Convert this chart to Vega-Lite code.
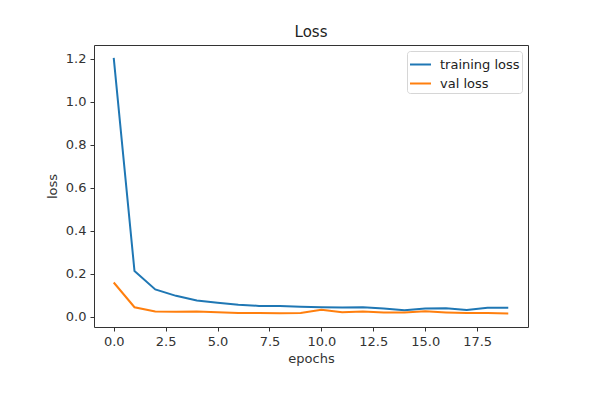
{
  "$schema": "https://vega.github.io/schema/vega-lite/v6.json",
  "width": 434,
  "height": 282,
  "autosize": {"type": "none"},
  "padding": {"left": 94, "top": 45, "right": 70, "bottom": 67},
  "background": "white",
  "title": {"text": "Loss", "font": "DejaVu Sans", "fontSize": 15, "fontWeight": "normal", "color": "#222", "offset": 5},
  "data": {"values": [
    {"epoch": 0, "loss": 1.205, "series": "training loss"},
    {"epoch": 1, "loss": 0.213, "series": "training loss"},
    {"epoch": 2, "loss": 0.128, "series": "training loss"},
    {"epoch": 3, "loss": 0.098, "series": "training loss"},
    {"epoch": 4, "loss": 0.076, "series": "training loss"},
    {"epoch": 5, "loss": 0.066, "series": "training loss"},
    {"epoch": 6, "loss": 0.057, "series": "training loss"},
    {"epoch": 7, "loss": 0.051, "series": "training loss"},
    {"epoch": 8, "loss": 0.051, "series": "training loss"},
    {"epoch": 9, "loss": 0.047, "series": "training loss"},
    {"epoch": 10, "loss": 0.045, "series": "training loss"},
    {"epoch": 11, "loss": 0.044, "series": "training loss"},
    {"epoch": 12, "loss": 0.045, "series": "training loss"},
    {"epoch": 13, "loss": 0.039, "series": "training loss"},
    {"epoch": 14, "loss": 0.031, "series": "training loss"},
    {"epoch": 15, "loss": 0.039, "series": "training loss"},
    {"epoch": 16, "loss": 0.040, "series": "training loss"},
    {"epoch": 17, "loss": 0.032, "series": "training loss"},
    {"epoch": 18, "loss": 0.043, "series": "training loss"},
    {"epoch": 19, "loss": 0.042, "series": "training loss"},
    {"epoch": 0, "loss": 0.160, "series": "val loss"},
    {"epoch": 1, "loss": 0.045, "series": "val loss"},
    {"epoch": 2, "loss": 0.025, "series": "val loss"},
    {"epoch": 3, "loss": 0.024, "series": "val loss"},
    {"epoch": 4, "loss": 0.025, "series": "val loss"},
    {"epoch": 5, "loss": 0.022, "series": "val loss"},
    {"epoch": 6, "loss": 0.018, "series": "val loss"},
    {"epoch": 7, "loss": 0.018, "series": "val loss"},
    {"epoch": 8, "loss": 0.017, "series": "val loss"},
    {"epoch": 9, "loss": 0.018, "series": "val loss"},
    {"epoch": 10, "loss": 0.033, "series": "val loss"},
    {"epoch": 11, "loss": 0.022, "series": "val loss"},
    {"epoch": 12, "loss": 0.025, "series": "val loss"},
    {"epoch": 13, "loss": 0.020, "series": "val loss"},
    {"epoch": 14, "loss": 0.020, "series": "val loss"},
    {"epoch": 15, "loss": 0.026, "series": "val loss"},
    {"epoch": 16, "loss": 0.021, "series": "val loss"},
    {"epoch": 17, "loss": 0.018, "series": "val loss"},
    {"epoch": 18, "loss": 0.018, "series": "val loss"},
    {"epoch": 19, "loss": 0.016, "series": "val loss"}
  ]},
  "mark": {"type": "line", "strokeWidth": 2, "clip": true},
  "encoding": {
    "x": {
      "field": "epoch", "type": "quantitative",
      "scale": {"domain": [-0.95, 19.95], "nice": false, "zero": false},
      "axis": {"values": [0, 2.5, 5, 7.5, 10, 12.5, 15, 17.5], "format": ".1f", "title": "epochs", "grid": false}
    },
    "y": {
      "field": "loss", "type": "quantitative",
      "scale": {"domain": [-0.047, 1.265], "nice": false, "zero": false},
      "axis": {"values": [0, 0.2, 0.4, 0.6, 0.8, 1.0, 1.2], "format": ".1f", "title": "loss", "grid": false}
    },
    "color": {
      "field": "series", "type": "nominal",
      "scale": {"domain": ["training loss", "val loss"], "range": ["#1f77b4", "#ff7f0e"]},
      "legend": {
        "title": null, "orient": "top-right", "offset": 6,
        "symbolType": "stroke", "symbolStrokeWidth": 2, "symbolSize": 441,
        "labelFont": "DejaVu Sans", "labelFontSize": 13, "labelColor": "#222",
        "strokeColor": "#d6d6d6", "fillColor": "white", "cornerRadius": 3,
        "padding": 2, "rowPadding": 0, "labelOffset": 8
      }
    }
  },
  "config": {
    "view": {"stroke": "#333", "strokeWidth": 1},
    "axis": {
      "domain": false,
      "ticks": true, "tickColor": "#333", "tickSize": 4, "tickWidth": 1,
      "labelFont": "DejaVu Sans", "labelFontSize": 13, "labelColor": "#333", "labelPadding": 4,
      "titleFont": "DejaVu Sans", "titleFontSize": 13, "titleFontWeight": "normal", "titleColor": "#333"
    },
    "axisX": {"titlePadding": 4, "labelFlush": false},
    "axisY": {"titlePadding": 6, "labelFlush": false}
  }
}
